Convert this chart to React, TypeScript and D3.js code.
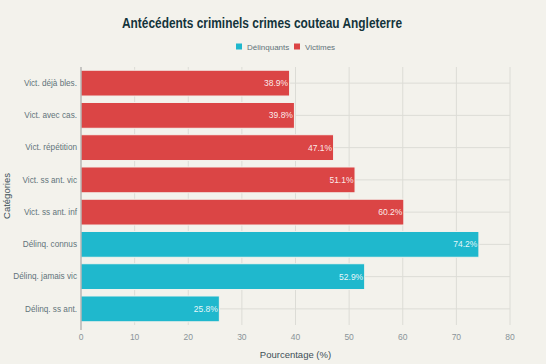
import React, { useEffect, useRef } from 'react';
import * as d3 from 'd3';

const categories = [
  'Vict. déjà bles.',
  'Vict. avec cas.',
  'Vict. répétition',
  'Vict. ss ant. vic',
  'Vict. ss ant. inf',
  'Délinq. connus',
  'Délinq. jamais vic',
  'Délinq. ss ant.',
];
const values = [38.9, 39.8, 47.1, 51.1, 60.2, 74.2, 52.9, 25.8];
const groups = ['Victimes', 'Victimes', 'Victimes', 'Victimes', 'Victimes', 'Délinquants', 'Délinquants', 'Délinquants'];
const legendItems = ['Délinquants', 'Victimes'];
const xTicks = [0, 10, 20, 30, 40, 50, 60, 70, 80];

const W = 546;
const H = 364;
const font = '"Liberation Sans", Arial, sans-serif';

export default function App() {
  const ref = useRef<SVGSVGElement>(null);

  useEffect(() => {
    const svg = d3.select(ref.current);
    svg.selectAll('*').remove();

    const color = d3.scaleOrdinal<string, string>()
      .domain(legendItems)
      .range(['#1fb8cd', '#db4545']);

    const x = d3.scaleLinear().domain([0, 80]).range([81, 510]);
    const y = d3.scaleBand().domain(categories).range([67, 325]).paddingInner(0.2).paddingOuter(0.1);

    svg.append('rect').attr('width', W).attr('height', H).attr('fill', '#f3f2ec');

    // grid
    svg.append('g')
      .selectAll('line')
      .data(xTicks.slice(1))
      .join('line')
      .attr('x1', d => x(d)).attr('x2', d => x(d))
      .attr('y1', 67).attr('y2', 325)
      .attr('stroke', '#dcdcd6').attr('stroke-width', 1);

    svg.append('g')
      .selectAll('line')
      .data(categories)
      .join('line')
      .attr('x1', 81).attr('x2', 510)
      .attr('y1', d => y(d)! + y.bandwidth() / 2)
      .attr('y2', d => y(d)! + y.bandwidth() / 2)
      .attr('stroke', '#dcdcd6').attr('stroke-width', 1);

    // bars
    svg.append('g')
      .selectAll('rect')
      .data(categories)
      .join('rect')
      .attr('x', x(0))
      .attr('y', d => y(d)!)
      .attr('width', (d, i) => x(values[i]) - x(0))
      .attr('height', y.bandwidth())
      .attr('fill', (d, i) => color(groups[i]))
      .attr('stroke', '#f3f2ec')
      .attr('stroke-width', 1);

    // labels
    svg.append('g')
      .selectAll('text')
      .data(categories)
      .join('text')
      .attr('x', (d, i) => x(values[i]) - 1.5)
      .attr('y', d => y(d)! + y.bandwidth() / 2)
      .attr('dy', '0.35em')
      .attr('text-anchor', 'end')
      .attr('font-family', font)
      .attr('font-size', 8.5)
      .attr('fill', '#ffffff')
      .attr('fill-opacity', 0.9)
      .text((d, i) => `${values[i]}%`);

    // left axis line
    svg.append('line')
      .attr('x1', x(0)).attr('x2', x(0))
      .attr('y1', 67).attr('y2', 330)
      .attr('stroke', '#999').attr('stroke-width', 1);

    // y labels
    svg.append('g')
      .selectAll('text')
      .data(categories)
      .join('text')
      .attr('x', 77)
      .attr('y', d => y(d)! + y.bandwidth() / 2)
      .attr('dy', '0.35em')
      .attr('text-anchor', 'end')
      .attr('font-family', font)
      .attr('font-size', 8.2)
      .attr('fill', '#62727a')
      .text(d => d);

    // x tick labels
    svg.append('g')
      .selectAll('text')
      .data(xTicks)
      .join('text')
      .attr('x', d => x(d))
      .attr('y', 340)
      .attr('text-anchor', 'middle')
      .attr('font-family', font)
      .attr('font-size', 8.5)
      .attr('fill', '#8a9499')
      .text(d => d);

    svg.append('text')
      .attr('x', (x(0) + x(80)) / 2)
      .attr('y', 358)
      .attr('text-anchor', 'middle')
      .attr('font-family', font)
      .attr('font-size', 9.5)
      .attr('fill', '#3d4f57')
      .text('Pourcentage (%)');

    svg.append('text')
      .attr('transform', `translate(10, ${(67 + 325) / 2}) rotate(-90)`)
      .attr('text-anchor', 'middle')
      .attr('font-family', font)
      .attr('font-size', 9.5)
      .attr('fill', '#3d4f57')
      .text('Catégories');

    svg.append('text')
      .attr('x', 262)
      .attr('y', 28)
      .attr('text-anchor', 'middle')
      .attr('font-family', font)
      .attr('font-size', 14.5)
      .attr('font-weight', 'bold')
      .attr('textLength', 280)
      .attr('lengthAdjust', 'spacingAndGlyphs')
      .attr('fill', '#13343b')
      .text('Antécédents criminels crimes couteau Angleterre');

    // legend
    const legendX = [236, 294];
    const lg = svg.append('g')
      .selectAll('g')
      .data(legendItems)
      .join('g')
      .attr('transform', (d, i) => `translate(${legendX[i]}, 47)`);
    lg.append('rect')
      .attr('x', 0).attr('y', -3.5)
      .attr('width', 6).attr('height', 6)
      .attr('fill', d => color(d));
    lg.append('text')
      .attr('x', 11).attr('y', 0)
      .attr('dy', '0.35em')
      .attr('font-family', font)
      .attr('font-size', 8)
      .attr('fill', '#62727a')
      .text(d => d);
  }, []);

  return <svg ref={ref} width={W} height={H} style={{ position: 'absolute', left: 0, top: 0 }} />;
}
